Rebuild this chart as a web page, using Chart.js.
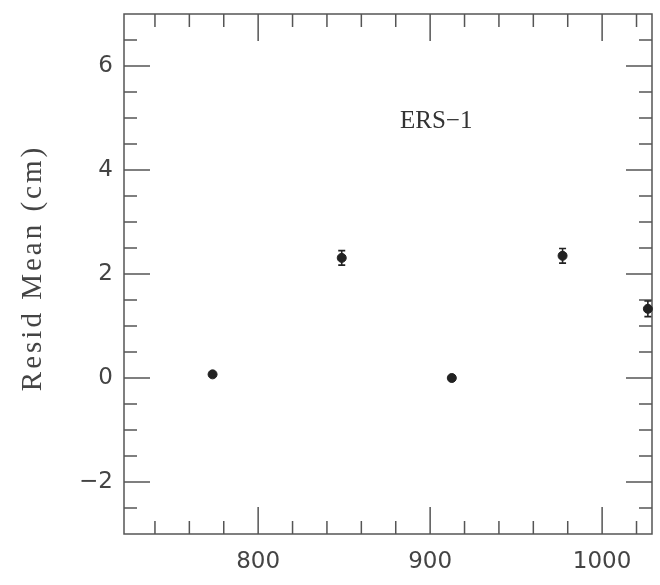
<!DOCTYPE html>
<html>
<head>
<meta charset="utf-8">
<script src="https://cdn.jsdelivr.net/npm/chart.js@4.4.1/dist/chart.umd.min.js"></script>
<style>
    html, body { margin: 0; padding: 0; background: #fff; }
    #wrap { width: 660px; height: 585px; }
</style>
</head>
<body>
<div id="wrap"><canvas id="residChart" width="660" height="585"></canvas></div>
<script>
// Data
const xValues = [773.5, 848.6, 912.6, 977.0, 1026.6];
const yValues = [0.07, 2.31, 0.00, 2.35, 1.33];
const yErrors = [0.03, 0.14, 0.03, 0.14, 0.15];

// Axis ticks
const xTickValues = [800, 900, 1000];
const xMinorTicks = [740, 760, 780, 820, 840, 860, 880, 920, 940, 960, 980, 1020];
const yTickValues = [-2, 0, 2, 4, 6];
const yTickLabels = ['\u22122', '0', '2', '4', '6'];
const yMinorTicks = [-2.5, -1.5, -1, -0.5, 0.5, 1, 1.5, 2.5, 3, 3.5, 4.5, 5, 5.5, 6.5];

const yTitle = 'Resid Mean (cm)';
const panelLabel = 'ERS\u22121';
const panelLabelAt = { x: 903.5, y: 4.94 };

const lineColor = '#555';
const textColor = '#444';

// Box, inward ticks, error bars and text
const framePlugin = {
    id: 'frame',
    beforeDatasetsDraw(chart) {
        const ctx = chart.ctx;
        const area = chart.chartArea;
        const xs = chart.scales.x;
        const ys = chart.scales.y;

        ctx.save();
        ctx.strokeStyle = lineColor;
        ctx.lineWidth = 1.5;
        ctx.strokeRect(area.left, area.top, area.right - area.left, area.bottom - area.top);

        const drawX = (v, len) => {
            const px = xs.getPixelForValue(v);
            ctx.beginPath();
            ctx.moveTo(px, area.bottom);
            ctx.lineTo(px, area.bottom - len);
            ctx.moveTo(px, area.top);
            ctx.lineTo(px, area.top + len);
            ctx.stroke();
        };
        const drawY = (v, len) => {
            const py = ys.getPixelForValue(v);
            ctx.beginPath();
            ctx.moveTo(area.left, py);
            ctx.lineTo(area.left + len, py);
            ctx.moveTo(area.right, py);
            ctx.lineTo(area.right - len, py);
            ctx.stroke();
        };
        xTickValues.forEach(v => drawX(v, 27));
        xMinorTicks.forEach(v => drawX(v, 13));
        yTickValues.forEach(v => drawY(v, 26));
        yMinorTicks.forEach(v => drawY(v, 13));

        // error bars
        ctx.strokeStyle = '#222';
        ctx.lineWidth = 1.6;
        xValues.forEach((x, i) => {
            const px = xs.getPixelForValue(x);
            const top = ys.getPixelForValue(yValues[i] + yErrors[i]);
            const bot = ys.getPixelForValue(yValues[i] - yErrors[i]);
            ctx.beginPath();
            ctx.moveTo(px, top);
            ctx.lineTo(px, bot);
            ctx.moveTo(px - 3.5, top);
            ctx.lineTo(px + 3.5, top);
            ctx.moveTo(px - 3.5, bot);
            ctx.lineTo(px + 3.5, bot);
            ctx.stroke();
        });

        // panel label
        ctx.fillStyle = '#333';
        ctx.font = '25px "Liberation Serif"';
        ctx.textAlign = 'center';
        ctx.textBaseline = 'middle';
        ctx.fillText(panelLabel, xs.getPixelForValue(panelLabelAt.x), ys.getPixelForValue(panelLabelAt.y));

        // y axis title
        ctx.translate(33, 268);
        ctx.rotate(-Math.PI / 2);
        ctx.font = '29px "Liberation Serif"';
        ctx.letterSpacing = '3px';
        ctx.fillStyle = textColor;
        ctx.fillText(yTitle, 0, 0);
        ctx.restore();
    }
};

document.addEventListener('DOMContentLoaded', function() {
    const ctx = document.getElementById('residChart');

    new Chart(ctx, {
        type: 'scatter',
        data: {
            datasets: [{
                data: xValues.map((x, i) => ({ x: x, y: yValues[i] })),
                backgroundColor: '#222',
                borderColor: '#222',
                pointRadius: 4.5,
                pointHoverRadius: 4.5,
                clip: false
            }]
        },
        options: {
            responsive: false,
            animation: false,
            layout: {
                padding: { top: 14, right: 8, left: 0, bottom: 0 }
            },
            plugins: {
                legend: { display: false },
                tooltip: { enabled: false }
            },
            scales: {
                x: {
                    type: 'linear',
                    min: 722,
                    max: 1029,
                    afterBuildTicks: (scale) => {
                        scale.ticks = xTickValues.map(v => ({ value: v }));
                    },
                    afterFit: (scale) => {
                        scale.height = 51;
                        scale.paddingLeft = 0;
                        scale.paddingRight = 0;
                    },
                    grid: { display: false, drawTicks: false },
                    border: { display: false },
                    ticks: {
                        padding: 14,
                        maxRotation: 0,
                        color: textColor,
                        font: { family: 'DejaVu Sans', size: 23 },
                        callback: (v) => String(v)
                    }
                },
                y: {
                    type: 'linear',
                    min: -3,
                    max: 7,
                    afterBuildTicks: (scale) => {
                        scale.ticks = yTickValues.map(v => ({ value: v }));
                    },
                    afterFit: (scale) => {
                        scale.width = 124;
                        scale.paddingTop = 0;
                        scale.paddingBottom = 0;
                    },
                    grid: { display: false, drawTicks: false },
                    border: { display: false },
                    ticks: {
                        padding: 11,
                        color: textColor,
                        font: { family: 'DejaVu Sans', size: 23 },
                        callback: (v) => yTickLabels[yTickValues.indexOf(v)]
                    }
                }
            }
        },
        plugins: [framePlugin]
    });
});
</script>
</body>
</html>
